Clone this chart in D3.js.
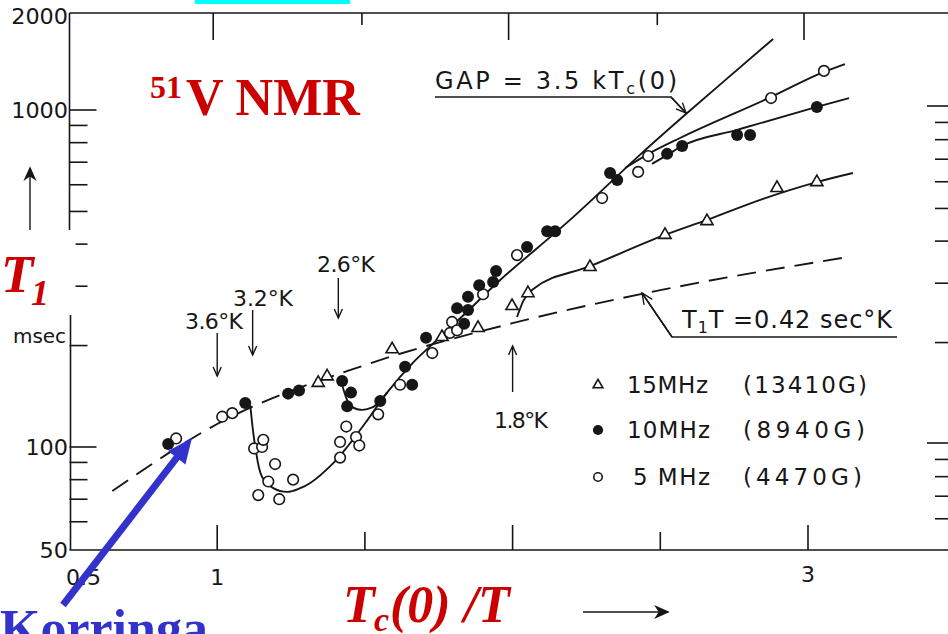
<!DOCTYPE html>
<html><head><meta charset="utf-8">
<script src="https://cdn.jsdelivr.net/npm/d3@7"></script>
<style>body{margin:0;background:#fff}svg{display:block}</style>
</head><body>
<svg id="c" width="948" height="634"></svg>
<script>
// ---------------- DATA (x = Tc(0)/T, y = T1 in msec) ----------------
const open5MHz = [[0.861,106],[1.017,123],[1.051,126],[1.125,99],[1.152,100],[1.156,105],[1.196,89],
  [1.173,79],[1.257,80],[1.139,72],[1.210,70],[1.416,103.5],[1.437,115],[1.470,107],[1.481,101],
  [1.416,93],[1.545,125],[1.619,153],[1.728,190],[1.788,218],[1.795,235],[1.812,222],[1.900,284],
  [2.015,371],[2.303,548],[2.425,655],[2.459,730],[2.875,1085],[3.054,1306]];
const filled10MHz = [[0.834,102],[1.095,135],[1.240,144],[1.277,147],[1.423,157],[1.453,145],[1.440,132],
  [1.552,137],[1.636,173],[1.660,153],[1.707,211],[1.836,232],[1.812,258],[1.849,279],[1.849,255],
  [1.887,302],[1.934,309],[1.944,333],[2.049,392],[2.117,437],[2.144,437],[2.330,650],[2.354,620],
  [2.523,741],[2.574,782],[2.760,843],[2.804,843],[3.030,1021]];
const tri15MHz = [[1.342,155],[1.372,162],[1.592,195],[1.761,212],[1.883,225.5],[1.998,262],[2.052,286],
  [2.262,342],[2.516,426],[2.658,468],[2.895,587],[3.030,611]];

// fitted curves
const gapCurve = [[1.112,133],[1.129,100],[1.152,81.5],[1.190,75.5],[1.237,73.6],[1.281,75.5],[1.315,78.2],
  [1.393,89.6],[1.440,100],[1.508,120],[1.575,145],[1.663,178],[1.755,212],[1.846,252],[1.958,313],
  [2.205,481],[2.431,736],[2.587,973],[2.882,1624]];
const dip26Curve = [[1.416,162],[1.433,143],[1.450,133],[1.484,129],[1.525,131],[1.552,137],[1.575,145]];
const open5Upper = [[2.381,673],[2.459,740],[2.567,826],[2.875,1093],[3.054,1297],[3.125,1369]];
const filled10Upper = [[2.472,692],[2.523,735],[2.574,782],[2.760,873],[3.030,1021],[3.139,1085]];
const tri15Curve = [[2.015,243],[2.036,271],[2.069,294],[2.262,344],[2.516,426],[2.658,472],[2.848,545],[3.030,611],[3.152,650]];
const korringaLine = [[0.645,74],[1.0,117],[1.5,175],[2.0,233],[2.5,292],[3.125,365]];

// axis ticks
const xMajor = [1, 2, 3];
const xMinor = [1.5, 2.5];
const xLabels = [["0.5", 0.5], ["1", 1], ["3", 3]];
const yMajor = [100, 1000];
const yMinor = [60, 70, 80, 90, 200, 300, 400, 500, 600, 700, 800, 900];
const yLabels = [50, 100, 1000, 2000];

// temperature markers (x positions in Tc(0)/T)
const tempMarks = [["3.6°K", 1.0], ["3.2°K", 1.12], ["2.6°K", 1.41], ["1.8°K", 2.0]];

// legend
const legendItems = [["tri", "15MHz", "(13410G)"], ["filled", "10MHz", "(8940G)"], ["open", "5 MHz", "(4470G)"]];

// ---------------- DRAWING ----------------
const svg = d3.select('#c');
const ink = '#161616';
const x = d3.scaleLinear().domain([0.5, 3]).range([69.5, 808]);
const y = d3.scaleLog().domain([100, 1000]).range([447, 110]);
const F = {left: x(0.5), top: 13, bottom: 550, right: 948};
const sans = "'DejaVu Sans', sans-serif";
const serif = "'Liberation Serif', 'Times New Roman', serif";

svg.append('rect').attr('x', 195).attr('y', 0).attr('width', 155).attr('height', 4).attr('fill', '#00ffff');

const ax = svg.append('g').attr('stroke', ink).attr('stroke-width', 1.6).attr('fill', 'none');
ax.append('path').attr('d', `M${F.left},${F.top}H${F.right}M${F.left},${F.bottom}H${F.right}`);
ax.append('path').attr('d', `M${F.left},${F.top}V230M${F.left+1},315V${F.bottom}`);
yMajor.forEach(v => {
  ax.append('line').attr('x1', F.left).attr('x2', F.left + 27).attr('y1', y(v)).attr('y2', y(v));
  ax.append('line').attr('x1', F.right - 21).attr('x2', F.right).attr('y1', y(v) - 4).attr('y2', y(v) - 4);
});
yMinor.forEach(v => {
  const inGap = y(v) > 230 && y(v) < 315;
  ax.append('line').attr('x1', inGap ? F.left + 6 : F.left).attr('x2', F.left + 18).attr('y1', y(v)).attr('y2', y(v));
  ax.append('line').attr('x1', F.right - 13).attr('x2', F.right).attr('y1', y(v) - 3).attr('y2', y(v) - 3);
});
xMajor.forEach(v => {
  ax.append('line').attr('x1', x(v) - 4).attr('x2', x(v) - 4).attr('y1', F.top).attr('y2', F.top + 27);
  ax.append('line').attr('x1', x(v)).attr('x2', x(v)).attr('y1', F.bottom).attr('y2', F.bottom - 25);
});
xMinor.forEach(v => {
  ax.append('line').attr('x1', x(v) - 3).attr('x2', x(v) - 3).attr('y1', F.top).attr('y2', F.top + 12);
  ax.append('line').attr('x1', x(v)).attr('x2', x(v)).attr('y1', F.bottom).attr('y2', F.bottom - 18);
});

const tl = svg.append('g').attr('fill', ink).attr('font-family', sans).attr('font-size', 22);
yLabels.forEach(v => {
  const yy = v === 2000 ? F.top + 3 : v === 50 ? F.bottom : y(v);
  tl.append('text').attr('x', 68).attr('y', yy).attr('dy', '0.36em').attr('text-anchor', 'end')
    .attr('textLength', String(v).length * 14.2).attr('lengthAdjust', 'spacingAndGlyphs').text(v);
});
xLabels.forEach(([t, v]) => {
  tl.append('text').attr('x', v === 0.5 ? x(v) + 14 : x(v)).attr('y', v === 3 ? 582 : 585)
    .attr('text-anchor', 'middle').text(t);
});
tl.append('text').attr('x', 13).attr('y', 343).attr('font-size', 20).attr('textLength', 53).text('msec');

function arrowLine(g, x1, y1, x2, y2, head, filled) {
  g.append('line').attr('x1', x1).attr('y1', y1).attr('x2', x2).attr('y2', y2);
  const a = Math.atan2(y2 - y1, x2 - x1), L = head, s = head * 0.45;
  const p1 = [x2 - L * Math.cos(a) + s * Math.sin(a), y2 - L * Math.sin(a) - s * Math.cos(a)];
  const p2 = [x2 - L * Math.cos(a) - s * Math.sin(a), y2 - L * Math.sin(a) + s * Math.cos(a)];
  if (filled) g.append('path').attr('d', `M${x2},${y2}L${p1}L${x2 - L*0.7*Math.cos(a)},${y2 - L*0.7*Math.sin(a)}L${p2}Z`).attr('fill', ink);
  else g.append('path').attr('d', `M${p1}L${x2},${y2}L${p2}`).attr('fill', 'none');
}
const ag = svg.append('g').attr('stroke', ink).attr('stroke-width', 1.4).attr('fill', 'none');
arrowLine(ag, 30, 230, 30, 168, 11, true);
arrowLine(ag, 583, 612, 668, 612, 12, true);

// curves
const lineCR = d3.line().x(d => x(d[0])).y(d => y(d[1])).curve(d3.curveCatmullRom.alpha(0.5));
const lineM = d3.line().x(d => x(d[0])).y(d => y(d[1])).curve(d3.curveMonotoneX);
const cg = svg.append('g').attr('fill', 'none').attr('stroke', ink).attr('stroke-width', 1.9);
cg.append('path').attr('d', lineM(korringaLine)).attr('stroke-dasharray', '19,10');
[gapCurve, dip26Curve].forEach(c => cg.append('path').attr('d', lineCR(c)));
[open5Upper, filled10Upper, tri15Curve].forEach(c => cg.append('path').attr('d', lineM(c)));

// annotations
const tg = svg.append('g').attr('fill', ink).attr('font-family', sans).attr('font-size', 22);
const tempLayout = {"3.6°K": [185, 329, 333, 376, 58], "3.2°K": [233, 306, 310, 355, 60],
  "2.6°K": [317, 272, 278, 318, 58], "1.8°K": [494, 428, 392, 346, 54]};
tempMarks.forEach(([t, v]) => {
  const [tx, ty, a0, a1, w] = tempLayout[t];
  tg.append('text').attr('x', tx).attr('y', ty).attr('textLength', w).text(t);
  arrowLine(ag, x(v), a0, x(v), a1, 9, false);
});

function fitRich(g, x0, y0, target, parts, size) {
  const t = g.append('text').attr('x', x0).attr('y', y0).attr('font-size', size);
  parts.forEach(p => t.append('tspan').attr('font-size', p.s || size).attr('dy', p.dy || 0).text(p.t));
  const n = parts.reduce((a, p) => a + p.t.length, 0);
  const w = t.node().getComputedTextLength();
  t.attr('letter-spacing', (target - w) / (n - 1));
  return t;
}
fitRich(tg, 435, 89, 242, [{t: 'GAP = 3.5 kT'}, {t: 'c', s: 16, dy: 5}, {t: '(0)', dy: -5}], 24);
ag.append('path').attr('d', 'M435,97H671L686,113');
arrowLine(ag, 671, 97, 686, 113, 10, false);
fitRich(tg, 682, 328, 210, [{t: 'T'}, {t: '1', s: 16, dy: 5}, {t: 'T =0.42 sec°K', dy: -5}], 24);
ag.append('path').attr('d', 'M897,337H672L642,293');
arrowLine(ag, 672, 337, 642, 293, 11, false);

// markers
const mg = svg.append('g');
function marker(g, kind, cx, cy, scale) {
  scale = scale || 1;
  if (kind === 'open') g.append('circle').attr('cx', cx).attr('cy', cy).attr('r', 5.3 * scale)
    .attr('fill', '#fff').attr('stroke', ink).attr('stroke-width', 1.6);
  else if (kind === 'filled') g.append('circle').attr('cx', cx).attr('cy', cy).attr('r', 6 * scale).attr('fill', ink);
  else g.append('path').attr('transform', `translate(${cx},${cy})`)
    .attr('d', d3.symbol(d3.symbolTriangle, 64 * scale * scale)()).attr('fill', '#fff').attr('stroke', ink).attr('stroke-width', 1.6);
}
tri15MHz.forEach(d => marker(mg, 'tri', x(d[0]), y(d[1])));
open5MHz.forEach(d => marker(mg, 'open', x(d[0]), y(d[1])));
filled10MHz.forEach(d => marker(mg, 'filled', x(d[0]), y(d[1])));

// legend
const lg = svg.append('g').attr('fill', ink).attr('font-family', sans).attr('font-size', 23);
const legLayout = [[385, 393, 627, 81, 124], [430, 438, 627, 83, 122], [477, 485, 633, 77, 119]];
legendItems.forEach(([k, a, b], i) => {
  const [my, by, ax0, wa, wb] = legLayout[i];
  marker(lg, k, 598, my, k === 'filled' ? 0.85 : 0.8);
  lg.append('text').attr('x', ax0).attr('y', by).attr('textLength', wa).text(a);
  lg.append('text').attr('x', 743).attr('y', by).attr('textLength', wb).text(b);
});

// red / blue overlay labels
const rg = svg.append('g').attr('font-family', serif).attr('font-weight', 'bold');
rg.append('text').attr('x', 150).attr('y', 98).attr('font-size', 32).attr('fill', '#cc0000').text('51');
rg.append('text').attr('x', 186).attr('y', 115).attr('font-size', 52).attr('fill', '#cc0000').text('V NMR');
rg.append('text').attr('x', 1).attr('y', 292).attr('font-size', 53).attr('font-style', 'italic').attr('fill', '#cc0000').text('T');
rg.append('text').attr('x', 31).attr('y', 305).attr('font-size', 36).attr('font-style', 'italic').attr('fill', '#cc0000').text('1');
rg.append('text').attr('x', 343).attr('y', 622).attr('font-size', 52).attr('font-style', 'italic').attr('fill', '#cc0000').text('T');
rg.append('text').attr('x', 374).attr('y', 631).attr('font-size', 34).attr('font-style', 'italic').attr('fill', '#cc0000').text('c');
rg.append('text').attr('x', 390).attr('y', 622).attr('font-size', 52).attr('font-style', 'italic').attr('fill', '#cc0000').text('(0) /T');
rg.append('text').attr('x', 0).attr('y', 646).attr('font-size', 52).attr('fill', '#3333cc').text('Korringa');

// blue arrow
const tip = [192, 438], tail = [63, 605];
const L = Math.hypot(tip[0] - tail[0], tip[1] - tail[1]);
const u = [(tip[0] - tail[0]) / L, (tip[1] - tail[1]) / L], n = [-u[1], u[0]];
const base = [tip[0] - 25 * u[0], tip[1] - 25 * u[1]];
svg.append('line').attr('x1', tail[0]).attr('y1', tail[1]).attr('x2', base[0] + 2 * u[0]).attr('y2', base[1] + 2 * u[1])
  .attr('stroke', '#3333cc').attr('stroke-width', 7);
svg.append('path').attr('fill', '#3333cc')
  .attr('d', `M${tip}L${base[0] + 11 * n[0]},${base[1] + 11 * n[1]}L${base[0] - 11 * n[0]},${base[1] - 11 * n[1]}Z`);
</script>
</body></html>
